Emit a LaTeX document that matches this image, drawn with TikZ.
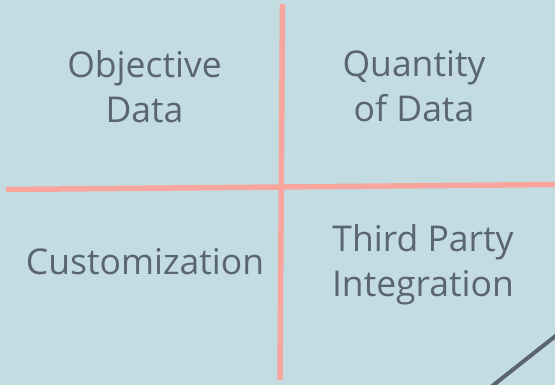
\documentclass[tikz,border=0pt]{standalone}
\usepackage{fontspec}
\setmainfont{Open Sans}
\definecolor{bgblue}{HTML}{C2DCE2}
\definecolor{salmon}{HTML}{F8A59E}
\definecolor{inkgray}{HTML}{5B6572}
\begin{document}
\begin{tikzpicture}[x=1pt,y=1pt,
  divider/.style={draw=salmon,line width=5.5pt},
  label/.style={text=inkgray,align=center,font=\fontsize{35.5}{45}\selectfont,inner sep=0pt},
  accent/.style={draw=inkgray,line width=4pt}]
  \fill[bgblue] (0,0) rectangle (555,385);
  \useasboundingbox (0,0) rectangle (555,385);
  \clip (0,0) rectangle (555,385);
  % divider end points
  \coordinate (hL) at (6,195.5);
  \coordinate (hR) at (556,200.5);
  \coordinate (vT) at (282.5,381);
  \coordinate (vB) at (280,5);
  \draw[divider] (hL) -- (hR);
  \draw[divider] (vT) -- (vB);
  % accent line
  \coordinate (aA) at (491,-2);
  \coordinate (aB) at (558,51);
  \draw[accent] (aA) -- (aB);
  % labels
  \node[label] (obj) at (144.5,298) {Objective\\Data};
  \node[label] (qty) at (414,298.5) {Quantity\\of Data};
  \node[label] (cus) at (145,123) {Customization};
  \node[label] (tpi) at (423,120) {Third Party\\Integration};
\end{tikzpicture}
\end{document}
